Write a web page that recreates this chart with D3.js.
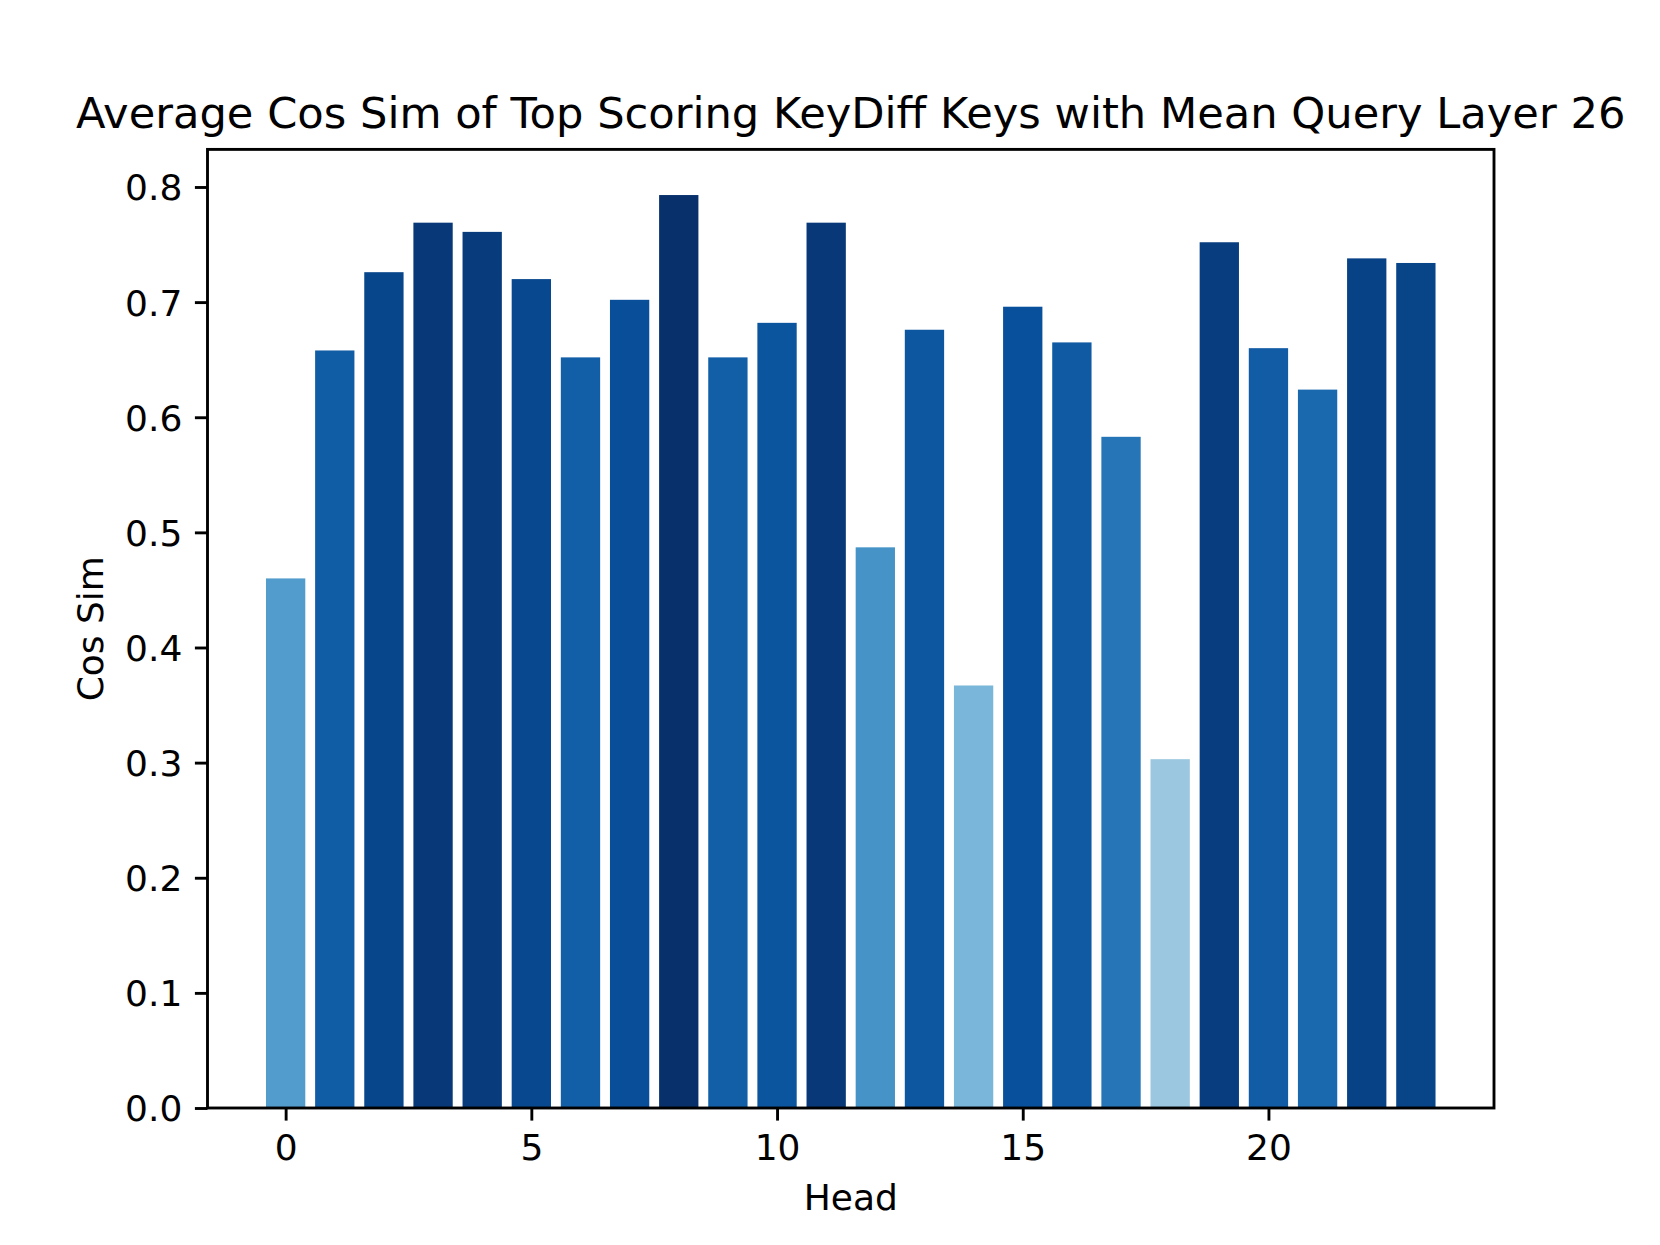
<!DOCTYPE html>
<html>
<head>
<meta charset="utf-8">
<script src="https://cdn.jsdelivr.net/npm/d3@7"></script>
<style>
  html, body { margin: 0; padding: 0; background: #fff; }
  svg { display: block; }
  text { font-family: "DejaVu Sans", sans-serif; fill: #000; }
</style>
</head>
<body>
<svg id="chart" width="1660" height="1245"></svg>
<script>
// ---- data ----
const heads = d3.range(0, 24);
const cosSim = [0.460, 0.658, 0.726, 0.769, 0.761, 0.720, 0.652, 0.702, 0.793, 0.652, 0.682, 0.769,
                0.487, 0.676, 0.367, 0.696, 0.665, 0.583, 0.303, 0.752, 0.660, 0.624, 0.738, 0.734];
const xTicks = [0, 5, 10, 15, 20];
const yTicks = [0.0, 0.1, 0.2, 0.3, 0.4, 0.5, 0.6, 0.7, 0.8];
const titleText = "Average Cos Sim of Top Scoring KeyDiff Keys with Mean Query Layer 26";
const xLabel = "Head";
const yLabel = "Cos Sim";

// matplotlib "Blues" colormap anchors
const bluesAnchors = ["#f7fbff", "#deebf7", "#c6dbef", "#9ecae1", "#6baed6", "#4292c6", "#2171b5", "#08519c", "#08306b"];

(function () {
// ---- layout ----
const axL = 207.5, axR = 1494, axT = 149.4, axB = 1108;
const lw = 2.88;           // 0.8pt line width
const tickLen = 12.6;      // 3.5pt
const tickPad = 12.6;
const fsTick = 36, fsLabel = 36, fsTitle = 43.2;

const svg = d3.select("#chart");

const barW = 0.8;
const xmin = d3.min(heads) - barW / 2, xmax = d3.max(heads) + barW / 2;
const xm = (xmax - xmin) * 0.05;
const x = d3.scaleLinear().domain([xmin - xm, xmax + xm]).range([axL, axR]);
const ymax = d3.max(cosSim) * 1.05;
const y = d3.scaleLinear().domain([0, ymax]).range([axB, axT]);

const vmax = d3.max(cosSim);
const blues = d3.scaleLinear()
  .domain(bluesAnchors.map((_, i) => i / (bluesAnchors.length - 1)))
  .range(bluesAnchors)
  .interpolate(d3.interpolateRgb)
  .clamp(true);

// bars
svg.append("g").selectAll("rect")
  .data(heads)
  .join("rect")
  .attr("x", i => x(i - barW / 2))
  .attr("width", i => x(i + barW / 2) - x(i - barW / 2))
  .attr("y", i => y(cosSim[i]))
  .attr("height", i => y(0) - y(cosSim[i]))
  .attr("fill", i => blues(cosSim[i] / vmax));

// axes
const xAxis = d3.axisBottom(x).tickValues(xTicks).tickFormat(d3.format("d"))
  .tickSize(tickLen).tickPadding(tickPad);
const gx = svg.append("g").attr("transform", `translate(0,${axB})`).call(xAxis);
gx.select(".domain").remove();
gx.selectAll(".tick line").attr("stroke", "#000").attr("stroke-width", lw);
gx.selectAll(".tick text").attr("font-size", fsTick).attr("font-family", "DejaVu Sans")
  .attr("fill", "#000").attr("dy", null)
  .attr("y", tickLen + tickPad + 27);

const yAxis = d3.axisLeft(y).tickValues(yTicks).tickFormat(d3.format(".1f"))
  .tickSize(tickLen).tickPadding(tickPad);
const gy = svg.append("g").attr("transform", `translate(${axL},0)`).call(yAxis);
gy.select(".domain").remove();
gy.selectAll(".tick line").attr("stroke", "#000").attr("stroke-width", lw);
gy.selectAll(".tick text").attr("font-size", fsTick).attr("font-family", "DejaVu Sans")
  .attr("fill", "#000").attr("dy", "0.36em");

// spines
svg.append("rect")
  .attr("x", axL).attr("y", axT)
  .attr("width", axR - axL).attr("height", axB - axT)
  .attr("fill", "none").attr("stroke", "#000").attr("stroke-width", lw)
  .attr("stroke-linejoin", "miter");

// title
svg.append("text")
  .attr("x", (axL + axR) / 2).attr("y", 128)
  .attr("text-anchor", "middle").attr("font-size", fsTitle)
  .text(titleText);

// x label
svg.append("text")
  .attr("x", (axL + axR) / 2).attr("y", 1210)
  .attr("text-anchor", "middle").attr("font-size", fsLabel)
  .text(xLabel);

// y label
svg.append("text")
  .attr("transform", `translate(103,${(axT + axB) / 2}) rotate(-90)`)
  .attr("text-anchor", "middle").attr("font-size", fsLabel)
  .text(yLabel);
})();
</script>
</body>
</html>
